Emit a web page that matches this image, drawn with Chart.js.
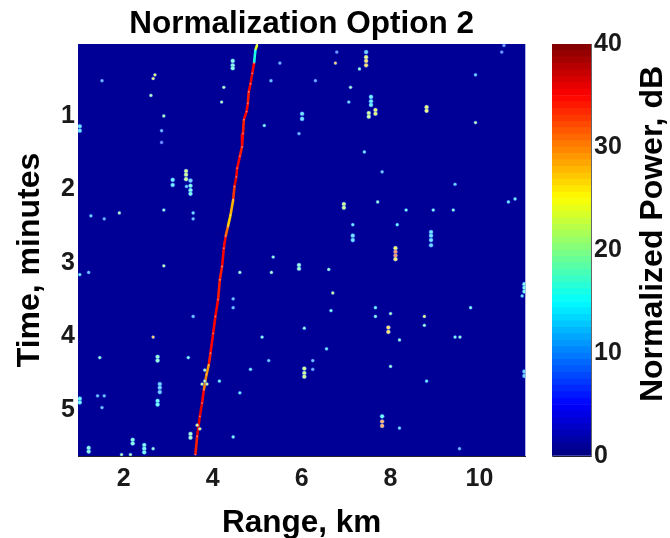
<!DOCTYPE html>
<html>
<head>
<meta charset="utf-8">
<title>Normalization Option 2</title>
<script src="https://cdn.jsdelivr.net/npm/chart.js@4"></script>
<style>
    html, body { margin: 0; padding: 0; background: #fff; }
    #wrapMain { position: absolute; left: 0; top: 0; width: 530px; height: 538px; }
    #wrapBar { position: absolute; left: 530px; top: 0; width: 140px; height: 538px; }
    canvas { filter: blur(0.45px); }
</style>
</head>
<body>
<div id="wrapMain"><canvas id="mainChart"></canvas></div>
<div id="wrapBar"><canvas id="barChart"></canvas></div>
<script>
const titleText = 'Normalization Option 2'
const xTitle = 'Range, km'
const yTitle = 'Time, minutes'
const barTitle = 'Normalized Power, dB'

const xTicks = [2, 4, 6, 8, 10]
const yTicks = [1, 2, 3, 4, 5]
const barTicks = [0, 10, 20, 30, 40]

// the target track
const trackRange = [5.00, 4.96, 4.93, 4.89, 4.85, 4.81, 4.79, 4.76, 4.70, 4.68, 4.66, 4.61, 4.55, 4.53, 4.49, 4.46, 4.40, 4.34, 4.29, 4.25, 4.21, 4.16, 4.12, 4.06, 4.01, 3.95, 3.91, 3.86, 3.80, 3.76, 3.71, 3.65, 3.61]
const trackTime = [0.03, 0.10, 0.28, 0.42, 0.56, 0.67, 0.83, 0.94, 1.05, 1.24, 1.42, 1.55, 1.71, 1.83, 1.96, 2.14, 2.35, 2.51, 2.64, 2.80, 3.05, 3.23, 3.50, 3.73, 3.96, 4.23, 4.39, 4.52, 4.73, 4.91, 5.09, 5.36, 5.61]
const trackPower = [24, 16, 35, 36, 35, 34, 35, 35, 34, 35, 34, 35, 35, 36, 33, 28, 27, 31, 35, 35, 34, 34, 35, 35, 35, 34, 29, 30, 35, 36, 36, 34, 35]

// isolated noise cells
const noiseRange = [1.01, 1.01, 1.51, 2.70, 2.66, 2.61, 2.90, 2.85, 2.85, 3.40, 3.40, 3.40, 3.10, 3.10, 3.50, 3.41, 3.50, 3.50, 3.50, 1.26, 1.56, 1.90, 2.90, 3.56, 3.56, 4.45, 4.45, 4.45, 4.25, 4.20, 5.16, 5.31, 5.51, 5.94, 6.76, 7.45, 7.45, 7.45, 7.45, 7.30, 6.79, 6.31, 7.10, 7.06, 7.56, 7.56, 7.56, 7.51, 7.51, 7.66, 7.66, 8.81, 8.81, 9.91, 9.91, 6.01, 6.01, 7.41, 7.81, 9.45, 6.95, 6.95, 7.71, 8.35, 8.96, 9.41, 10.65, 10.80, 7.15, 8.15, 7.15, 7.15, 8.91, 8.91, 8.91, 8.91, 8.11, 8.11, 8.11, 8.11, 10.55, 10.50,
    5.36, 2.90, 1.21, 1.01, 4.61, 5.32, 5.94, 5.94, 4.46, 4.46, 3.56, 2.66, 5.11, 1.46, 2.76, 2.76, 3.45, 5.26, 3.82, 4.85, 3.76, 3.82, 3.87, 4.15, 2.81, 2.81, 2.81, 4.61, 1.41, 1.56, 1.01, 1.01, 1.51, 2.76, 2.76, 3.65, 3.71, 3.50, 3.50, 4.46, 2.20, 2.20, 1.21, 1.21, 2.46, 2.46, 2.46, 2.66, 1.95, 2.15,
    6.61, 6.70, 6.66, 7.66, 7.66, 8.00, 8.76, 8.76, 7.95, 7.95, 9.80, 10.96, 11.01, 11.01, 11.01, 6.06, 8.20, 9.45, 9.56, 6.56, 6.25, 6.25, 6.06, 6.06, 6.06, 8.00, 8.81, 11.01, 11.01, 7.81, 7.81, 7.81, 8.20, 9.55]
const noiseTime = [1.14, 1.20, 0.52, 0.44, 0.49, 0.72, 1.00, 1.20, 1.36, 1.75, 1.80, 1.86, 1.87, 1.94, 1.88, 1.96, 1.95, 2.01, 2.06, 2.36, 2.40, 2.32, 2.28, 2.32, 2.40, 0.25, 0.31, 0.35, 0.61, 0.81, 1.13, 0.52, 0.28, 1.24, 0.28, 0.13, 0.20, 0.25, 0.31, 0.36, 0.13, 0.52, 0.61, 0.81, 0.74, 0.80, 0.85, 0.96, 1.01, 0.92, 0.97, 0.88, 0.93, 0.44, 1.09, 0.97, 1.04, 1.49, 1.76, 1.93, 2.20, 2.25, 2.17, 2.28, 2.28, 2.28, 2.17, 2.13, 2.48, 2.48, 2.63, 2.69, 2.58, 2.63, 2.69, 2.76, 2.80, 2.85, 2.90, 2.95, 0.04, 0.13,
    2.92, 3.04, 3.13, 3.16, 3.13, 3.13, 3.03, 3.08, 3.49, 3.61, 3.73, 4.01, 4.01, 4.29, 4.28, 4.33, 4.29, 4.33, 4.46, 4.45, 4.65, 4.61, 4.65, 4.61, 4.65, 4.70, 4.76, 4.77, 4.81, 4.81, 4.85, 4.90, 4.97, 4.88, 4.93, 5.21, 5.26, 5.33, 5.38, 5.37, 5.41, 5.46, 5.52, 5.57, 5.48, 5.53, 5.58, 5.53, 5.61, 5.61,
    3.09, 3.41, 3.65, 3.61, 3.73, 3.69, 3.73, 3.85, 3.88, 3.94, 3.61, 3.45, 3.29, 3.34, 3.39, 3.89, 4.05, 4.01, 4.01, 4.17, 4.33, 4.45, 4.44, 4.50, 4.55, 4.41, 4.61, 4.48, 4.54, 5.09, 5.16, 5.22, 5.25, 5.53]
const noisePower = [13, 13, 10, 24, 24, 20, 20, 10, 7, 22, 22, 22, 14, 14, 12, 12, 16, 16, 16, 12, 10, 20, 18, 13, 11, 17, 17, 17, 20, 20, 16, 11, 10, 10, 28, 12, 24, 27, 27, 18, 8, 9, 19, 13, 14, 14, 14, 22, 22, 24, 24, 24, 24, 12, 20, 13, 13, 14, 12, 12, 22, 22, 18, 16, 16, 17, 14, 14, 14, 15, 13, 13, 13, 13, 13, 12, 25, 32, 32, 26, 8, 8,
    18, 21, 11, 14, 19, 19, 18, 18, 11, 11, 11, 28, 17, 18, 18, 18, 16, 11, 20, 14, 22, 22, 22, 15, 12, 12, 12, 14, 11, 11, 15, 15, 11, 15, 15, 24, 24, 19, 19, 16, 17, 17, 17, 17, 16, 16, 16, 18, 19, 19,
    18, 22, 16, 15, 17, 19, 24, 18, 27, 27, 16, 13, 16, 16, 16, 17, 18, 16, 18, 14, 11, 9, 22, 22, 22, 18, 14, 12, 12, 15, 30, 30, 13, 10]

// matlab jet colormap, value in dB
function jet(db) {
    const t = db / 40
    const c = (v) => Math.round(255 * Math.max(0, Math.min(1, v)))
    return [
        c(Math.min(4 * t - 1.5, -4 * t + 4.5)),
        c(Math.min(4 * t - 0.5, -4 * t + 3.5)),
        c(Math.min(4 * t + 0.5, -4 * t + 2.5))
    ]
}
const jetCss = (db) => 'rgb(' + jet(db).join(',') + ')'
// small cells wash out towards white in the source image
const paleCss = (db) => 'rgb(' + jet(db).map((v) => Math.round(v + (255 - v) * 0.45)).join(',') + ')'

// cells that touch another one in the same range bin read as one streak
const noiseSize = noiseRange.map((r, i) =>
    noiseRange.some((o, j) => j !== i && o === r && Math.abs(noiseTime[j] - noiseTime[i]) < 0.08) ? 2.1 : 1.6
)

const tickFont = { family: '"Liberation Sans", Arial, sans-serif', size: 25, weight: 'bold' }
const labelFont = { family: '"Liberation Sans", Arial, sans-serif', size: 31.5, weight: 'bold', lineHeight: 1 }
const headFont = { family: '"Liberation Sans", Arial, sans-serif', size: 31.5, weight: 'bold' }

// y-axis style titles that read upward, away from the axis centre
const sideTitle = {
    id: 'sideTitle',
    afterDraw(chart, args, opts) {
        const ctx = chart.ctx
        ctx.save()
        ctx.translate(opts.x, opts.y)
        ctx.rotate(-Math.PI / 2)
        ctx.font = 'bold ' + opts.size + 'px "Liberation Sans", Arial, sans-serif'
        ctx.fillStyle = '#000'
        ctx.textAlign = 'center'
        ctx.textBaseline = 'middle'
        ctx.fillText(opts.text, 0, 0)
        ctx.restore()
    }
}

const plotBackground = {
    id: 'plotBackground',
    beforeDatasetsDraw(chart) {
        const a = chart.chartArea
        chart.ctx.fillStyle = '#000096'
        chart.ctx.fillRect(a.left, a.top, a.right - a.left, a.bottom - a.top)
    }
}

new Chart(document.getElementById('mainChart'), {
    type: 'scatter',
    plugins: [plotBackground, sideTitle],
    data: {
        datasets: [{
            label: 'noise',
            data: noiseRange.map((r, i) => ({ x: r, y: noiseTime[i] })),
            pointStyle: 'circle',
            pointRadius: noiseSize,
            pointBorderWidth: 0.7,
            pointBackgroundColor: noisePower.map(paleCss),
            pointBorderColor: 'rgba(60,110,255,0.55)'
        }, {
            label: 'track',
            data: trackRange.map((r, i) => ({ x: r, y: trackTime[i] })),
            showLine: true,
            pointRadius: 0.9,
            pointBorderWidth: 0,
            pointBackgroundColor: trackPower.map(paleCss),
            borderWidth: 2.6,
            borderColor: 'rgb(230,20,20)',
            segment: {
                borderColor: (c) => jetCss(trackPower[c.p0DataIndex])
            }
        }]
    },
    options: {
        responsive: true,
        maintainAspectRatio: false,
        animation: false,
        layout: { padding: { right: 4 } },
        plugins: {
            legend: { display: false },
            tooltip: { enabled: false },
            title: {
                display: true,
                text: titleText,
                fullSize: false,
                color: '#000',
                font: headFont,
                padding: { top: 5, bottom: 1.2 }
            },
            sideTitle: { text: yTitle, x: 30, y: 260, size: 32 }
        },
        scales: {
            x: {
                type: 'linear',
                min: 0.97,
                max: 11.03,
                afterBuildTicks: (s) => { s.ticks = xTicks.map((v) => ({ value: v })) },
                afterFit: (s) => { s.height = 82 },
                border: { color: '#223' },
                grid: { drawOnChartArea: false, tickLength: -5, color: '#00005a' },
                ticks: { font: tickFont, color: '#1a1a1a', padding: 13, maxRotation: 0 },
                title: { display: true, text: xTitle, color: '#000', font: labelFont, padding: { top: 0, bottom: -1 } }
            },
            y: {
                type: 'linear',
                reverse: true,
                min: 0.02,
                max: 5.63,
                afterBuildTicks: (s) => { s.ticks = yTicks.map((v) => ({ value: v })) },
                afterFit: (s) => { s.width = 78 },
                border: { color: '#223' },
                grid: { drawOnChartArea: false, tickLength: -5, color: '#00005a' },
                ticks: { font: tickFont, color: '#1a1a1a', padding: 8 }
            }
        }
    }
})

// colorbar, 64 flat levels
const barLevels = Array.from({ length: 64 }, (_, i) => i)
const levelStep = 40 / barLevels.length

new Chart(document.getElementById('barChart'), {
    type: 'bar',
    plugins: [sideTitle],
    data: {
        labels: ['power'],
        datasets: barLevels.map((i) => ({
            label: 'level ' + i,
            data: [[i * levelStep, (i + 1) * levelStep]],
            backgroundColor: jetCss((i + 0.5) * levelStep),
            barPercentage: 1,
            categoryPercentage: 1,
            grouped: false
        }))
    },
    options: {
        responsive: true,
        maintainAspectRatio: false,
        animation: false,
        layout: { padding: { top: 44 } },
        plugins: {
            legend: { display: false },
            tooltip: { enabled: false },
            sideTitle: { text: barTitle, x: 123, y: 234, size: 32 }
        },
        scales: {
            x: {
                display: true,
                afterFit: (s) => { s.height = 82 },
                border: { color: '#223' },
                grid: { display: false },
                ticks: { display: false }
            },
            y: {
                position: 'right',
                min: 0,
                max: 40,
                afterBuildTicks: (s) => { s.ticks = barTicks.map((v) => ({ value: v })) },
                afterFit: (s) => { s.width = 79 },
                border: { color: '#666' },
                grid: { drawOnChartArea: false, tickLength: -6, color: '#333' },
                ticks: { font: tickFont, color: '#1a1a1a', padding: 9 }
            },
            yLeft: {
                position: 'left',
                min: 0,
                max: 40,
                afterBuildTicks: (s) => { s.ticks = barTicks.map((v) => ({ value: v })) },
                afterFit: (s) => { s.width = 22 },
                border: { color: '#666' },
                grid: { drawOnChartArea: false, tickLength: -6, color: '#333' },
                ticks: { display: false }
            }
        }
    }
})
</script>
</body>
</html>
